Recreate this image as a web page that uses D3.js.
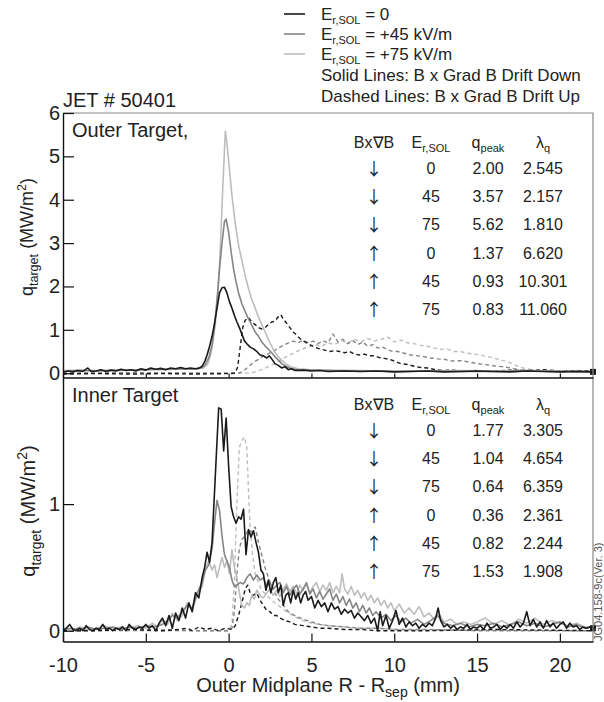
<!DOCTYPE html>
<html>
<head>
<meta charset="utf-8">
<script src="https://cdn.jsdelivr.net/npm/d3@7"></script>
<style>
  body { margin: 0; background: #fff; }
  svg text { font-family: "Liberation Sans", Arial, sans-serif; fill: #222; }
</style>
</head>
<body>
<div id="chart"></div>
<script>
// tick values
const xTicks = [-10, -5, 0, 5, 10, 15, 20];
const outerYTicks = [0, 1, 2, 3, 4, 5, 6];
const innerYTicks = [0, 1];

// table values
const driftDir = ['↓', '↓', '↓', '↑', '↑', '↑'];
const erSol = ['0', '45', '75', '0', '45', '75'];
const outerQpeak = ['2.00', '3.57', '5.62', '1.37', '0.93', '0.83'];
const outerLambda = ['2.545', '2.157', '1.810', '6.620', '10.301', '11.060'];
const innerQpeak = ['1.77', '1.04', '0.64', '0.36', '0.82', '1.53'];
const innerLambda = ['3.305', '4.654', '6.359', '2.361', '2.244', '1.908'];

// outer target, drift down (solid)
const outerDown0 = [[-10,0.02],[-9.7,0.05],[-9.4,0.03],[-9.1,0.06],[-8.8,0.04],[-8.5,0.12],[-8.3,0.04],[-8.0,0.05],[-7.7,0.08],[-7.4,0.04],[-7.1,0.07],[-6.8,0.05],[-6.5,0.09],[-6.2,0.06],[-5.9,0.08],[-5.6,0.05],[-5.3,0.1],[-5.0,0.07],[-4.7,0.12],[-4.4,0.09],[-4.1,0.11],[-3.8,0.08],[-3.5,0.12],[-3.2,0.1],[-2.9,0.13],[-2.6,0.1],[-2.3,0.12],[-2.0,0.1],[-1.8,0.11],[-1.6,0.16],[-1.45,0.26],[-1.3,0.42],[-1.15,0.62],[-1.0,0.85],[-0.85,1.15],[-0.7,1.5],[-0.55,1.85],[-0.4,1.97],[-0.25,1.98],[-0.1,1.85],[0.05,1.65],[0.2,1.5],[0.35,1.33],[0.5,1.18],[0.65,1.05],[0.8,0.9],[0.95,0.75],[1.1,0.68],[1.3,0.6],[1.5,0.56],[1.7,0.5],[1.9,0.42],[2.1,0.4],[2.3,0.35],[2.45,0.4],[2.6,0.33],[2.8,0.22],[3.0,0.18],[3.2,0.12],[3.4,0.15],[3.6,0.08],[3.8,0.1],[4.0,0.06],[4.5,0.07],[5,0.05],[5.5,0.06],[6,0.04],[7,0.05],[8,0.04],[9,0.05],[10,0.03],[11,0.04],[12,0.05],[13,0.03],[14,0.04],[15,0.05],[16,0.04],[17,0.03],[18,0.05],[19,0.04],[20,0.03],[21,0.04],[22,0.03]];
const outerDown45 = [[-10,0.04],[-9,0.06],[-8,0.05],[-7,0.06],[-6,0.07],[-5,0.08],[-4,0.09],[-3,0.1],[-2,0.1],[-1.6,0.13],[-1.4,0.2],[-1.2,0.35],[-1.0,0.65],[-0.85,1.1],[-0.7,1.7],[-0.55,2.4],[-0.4,3.0],[-0.25,3.5],[-0.15,3.55],[0.0,3.25],[0.15,2.8],[0.3,2.4],[0.45,2.1],[0.6,1.85],[0.8,1.6],[1.0,1.42],[1.2,1.25],[1.4,1.1],[1.6,0.95],[1.8,0.85],[2.0,0.72],[2.2,0.63],[2.4,0.55],[2.6,0.47],[2.8,0.38],[3.0,0.3],[3.2,0.22],[3.5,0.15],[3.8,0.1],[4.2,0.08],[5,0.07],[6,0.06],[7,0.05],[8,0.05],[10,0.04],[12,0.05],[14,0.04],[16,0.04],[18,0.05],[20,0.04],[22,0.03]];
const outerDown75 = [[-10,0.06],[-9,0.07],[-8,0.06],[-7,0.08],[-6,0.07],[-5,0.09],[-4,0.08],[-3,0.1],[-2,0.1],[-1.5,0.12],[-1.25,0.22],[-1.1,0.4],[-0.95,0.7],[-0.8,1.15],[-0.65,1.8],[-0.5,2.9],[-0.35,4.3],[-0.2,5.58],[-0.1,5.3],[0.05,4.7],[0.2,4.1],[0.4,3.45],[0.6,2.95],[0.8,2.6],[1.0,2.25],[1.2,1.95],[1.4,1.7],[1.6,1.5],[1.8,1.3],[2.0,1.12],[2.2,0.95],[2.4,0.78],[2.6,0.62],[2.8,0.48],[3.0,0.38],[3.2,0.3],[3.5,0.2],[3.8,0.14],[4.2,0.1],[5,0.08],[6,0.07],[8,0.06],[10,0.05],[12,0.05],[14,0.06],[16,0.05],[18,0.06],[20,0.05],[22,0.04]];

// outer target, drift up (dashed)
const outerUp0 = [[-10,-0.02],[-8,-0.01],[-6,-0.02],[-4,-0.01],[-2,-0.02],[0,-0.01],[0.4,0.0],[0.55,0.15],[0.7,0.6],[0.85,1.05],[1.0,1.22],[1.2,1.28],[1.4,1.18],[1.6,1.12],[1.8,1.05],[2.0,1.02],[2.2,1.05],[2.4,1.12],[2.6,1.18],[2.8,1.2],[3.0,1.3],[3.15,1.35],[3.3,1.25],[3.5,1.15],[3.7,1.05],[3.9,0.95],[4.1,0.88],[4.3,0.8],[4.6,0.72],[4.9,0.66],[5.2,0.6],[5.5,0.56],[5.8,0.53],[6.1,0.5],[6.4,0.52],[6.7,0.5],[7.0,0.47],[7.3,0.5],[7.6,0.44],[7.9,0.42],[8.2,0.44],[8.5,0.4],[8.8,0.4],[9.1,0.36],[9.4,0.34],[9.7,0.32],[10.0,0.28],[10.4,0.22],[10.8,0.2],[11.2,0.16],[11.6,0.13],[12.0,0.12],[12.5,0.08],[13,0.06],[13.5,0.07],[14,0.05],[15,0.06],[16,0.05],[17,0.07],[18,0.06],[19,0.08],[20,0.05],[21,0.06],[22,0.05]];
const outerUp45 = [[-10,0.0],[-6,0.01],[-2,0.0],[0,0.0],[0.6,0.0],[0.9,0.05],[1.2,0.15],[1.5,0.25],[1.8,0.32],[2.1,0.4],[2.4,0.45],[2.7,0.5],[3.0,0.58],[3.3,0.64],[3.6,0.7],[3.9,0.74],[4.2,0.7],[4.5,0.76],[4.8,0.7],[5.1,0.74],[5.4,0.68],[5.7,0.75],[6.0,0.7],[6.3,0.9],[6.6,0.72],[6.9,0.78],[7.2,0.68],[7.5,0.75],[7.8,0.66],[8.1,0.72],[8.4,0.62],[8.7,0.66],[9.0,0.58],[9.3,0.6],[9.6,0.54],[9.9,0.5],[10.2,0.5],[10.6,0.46],[11.0,0.42],[11.4,0.4],[11.8,0.38],[12.2,0.35],[12.6,0.33],[13.0,0.32],[13.5,0.28],[14.0,0.29],[14.5,0.26],[15.0,0.22],[15.5,0.2],[16.0,0.17],[16.5,0.15],[17.0,0.12],[17.5,0.08],[18,0.06],[19,0.05],[20,0.06],[21,0.05],[22,0.05]];
const outerUp75 = [[-10,0.0],[-4,0.01],[0,0.0],[1.2,0.0],[1.6,0.03],[2.0,0.08],[2.4,0.15],[2.8,0.22],[3.2,0.32],[3.6,0.4],[4.0,0.48],[4.4,0.55],[4.8,0.6],[5.2,0.66],[5.6,0.62],[6.0,0.7],[6.4,0.66],[6.8,0.74],[7.2,0.7],[7.6,0.78],[8.0,0.72],[8.4,0.8],[8.8,0.74],[9.2,0.78],[9.6,0.83],[10.0,0.72],[10.4,0.76],[10.8,0.7],[11.2,0.68],[11.6,0.64],[12.0,0.62],[12.4,0.58],[12.8,0.55],[13.2,0.56],[13.6,0.5],[14.0,0.5],[14.4,0.46],[14.8,0.44],[15.2,0.42],[15.6,0.38],[16.0,0.36],[16.4,0.3],[16.8,0.28],[17.2,0.2],[17.6,0.14],[18.0,0.1],[18.5,0.07],[19,0.06],[20,0.05],[21,0.06],[22,0.05]];

// inner target, drift down (solid)
const innerDown0 = [[-10,0.0],[-9.8,0.02],[-9.6,0.05],[-9.4,0.01],[-9.2,0.0],[-9.0,0.02],[-8.8,0.0],[-8.6,0.04],[-8.4,0.01],[-8.2,0.0],[-8.0,0.02],[-7.8,0.01],[-7.6,0.05],[-7.4,0.01],[-7.2,0.02],[-7.0,0.0],[-6.8,0.02],[-6.6,0.01],[-6.4,0.03],[-6.2,0.0],[-6.0,0.05],[-5.8,0.02],[-5.6,0.01],[-5.4,0.03],[-5.2,0.02],[-5.0,0.05],[-4.8,0.02],[-4.6,0.04],[-4.4,0.0],[-4.2,0.06],[-4.0,0.1],[-3.8,0.04],[-3.6,0.12],[-3.4,0.02],[-3.2,0.14],[-3.0,0.08],[-2.8,0.18],[-2.6,0.1],[-2.4,0.22],[-2.2,0.15],[-2.0,0.3],[-1.8,0.26],[-1.6,0.42],[-1.45,0.5],[-1.3,0.62],[-1.15,0.54],[-1.0,0.7],[-0.85,1.1],[-0.7,1.5],[-0.6,1.76],[-0.45,1.75],[-0.3,1.42],[-0.15,1.68],[0.0,1.3],[0.15,0.98],[0.3,0.9],[0.45,0.85],[0.6,0.9],[0.75,0.88],[0.9,0.96],[1.05,0.6],[1.2,0.8],[1.35,0.74],[1.5,0.79],[1.65,0.7],[1.8,0.62],[1.95,0.48],[2.1,0.45],[2.25,0.32],[2.4,0.4],[2.55,0.3],[2.7,0.38],[2.85,0.42],[3.0,0.3],[3.15,0.36],[3.3,0.2],[3.45,0.28],[3.6,0.3],[3.75,0.22],[3.9,0.32],[4.05,0.25],[4.2,0.3],[4.35,0.22],[4.5,0.28],[4.65,0.31],[4.8,0.24],[5.0,0.27],[5.2,0.18],[5.4,0.24],[5.6,0.19],[5.8,0.22],[6.0,0.15],[6.2,0.22],[6.4,0.17],[6.6,0.19],[6.8,0.13],[7.0,0.17],[7.2,0.14],[7.4,0.16],[7.6,0.1],[7.8,0.14],[8.0,0.11],[8.2,0.08],[8.4,0.12],[8.6,0.06],[8.8,0.1],[9.0,0.0],[9.15,0.15],[9.3,0.04],[9.5,0.12],[9.7,0.02],[9.9,0.08],[10.1,0.16],[10.3,0.05],[10.5,0.1],[10.7,0.03],[10.9,0.07],[11.1,0.04],[11.3,0.06],[11.5,0.02],[11.7,0.05],[11.9,0.03],[12.1,0.06],[12.3,0.04],[12.5,0.1],[12.65,0.18],[12.8,0.08],[13.0,0.03],[13.2,0.05],[13.4,0.02],[13.6,0.04],[13.8,0.01],[14.0,0.03],[14.2,0.02],[14.4,0.05],[14.6,0.01],[14.8,0.03],[15.0,0.02],[15.2,0.04],[15.4,0.01],[15.6,0.06],[15.8,0.02],[16.0,0.03],[16.2,0.05],[16.4,0.01],[16.6,0.04],[16.8,0.02],[17.0,0.05],[17.2,0.02],[17.4,0.07],[17.6,0.03],[17.8,0.06],[18.0,0.15],[18.2,0.04],[18.4,0.09],[18.6,0.03],[18.8,0.07],[19.0,0.02],[19.2,0.08],[19.4,0.03],[19.6,0.06],[19.8,0.02],[20.0,0.05],[20.2,0.07],[20.4,0.02],[20.6,0.06],[20.8,0.03],[21.0,0.04],[21.2,0.01],[21.4,0.03],[21.6,0.02],[21.8,0.03],[22.0,0.02]];
const innerDown45 = [[-10,0.01],[-9.5,0.02],[-9,0.01],[-8.5,0.03],[-8,0.01],[-7.5,0.02],[-7,0.03],[-6.5,0.01],[-6,0.03],[-5.5,0.02],[-5,0.04],[-4.5,0.03],[-4.0,0.05],[-3.7,0.08],[-3.4,0.12],[-3.1,0.1],[-2.8,0.15],[-2.5,0.2],[-2.2,0.18],[-1.9,0.3],[-1.6,0.38],[-1.4,0.48],[-1.2,0.52],[-1.0,0.65],[-0.85,0.85],[-0.7,1.03],[-0.55,0.95],[-0.4,0.75],[-0.25,0.6],[-0.1,0.55],[0.05,0.5],[0.2,0.4],[0.35,0.35],[0.5,0.36],[0.7,0.38],[0.9,0.37],[1.1,0.42],[1.3,0.45],[1.5,0.4],[1.7,0.44],[1.9,0.4],[2.1,0.42],[2.3,0.35],[2.5,0.38],[2.7,0.33],[2.9,0.36],[3.1,0.38],[3.3,0.3],[3.5,0.35],[3.7,0.28],[3.9,0.33],[4.1,0.36],[4.3,0.29],[4.5,0.33],[4.7,0.38],[4.9,0.29],[5.1,0.33],[5.3,0.26],[5.5,0.31],[5.7,0.25],[5.9,0.29],[6.1,0.33],[6.3,0.24],[6.5,0.29],[6.7,0.22],[6.9,0.27],[7.1,0.2],[7.3,0.25],[7.5,0.18],[7.7,0.22],[7.9,0.15],[8.1,0.2],[8.3,0.14],[8.5,0.18],[8.7,0.12],[8.9,0.15],[9.2,0.1],[9.5,0.13],[9.8,0.08],[10.1,0.12],[10.4,0.07],[10.7,0.1],[11.0,0.06],[11.4,0.09],[11.8,0.05],[12.2,0.08],[12.6,0.12],[13.0,0.06],[13.5,0.04],[14,0.06],[14.5,0.03],[15,0.05],[15.5,0.04],[16,0.06],[16.5,0.03],[17,0.05],[17.5,0.07],[18,0.04],[18.5,0.06],[19,0.03],[19.5,0.05],[20,0.07],[20.5,0.03],[21,0.05],[21.5,0.02],[22,0.03]];
const innerDown75 = [[-10,0.02],[-9.5,0.0],[-9,0.03],[-8.5,0.01],[-8,0.02],[-7.5,0.04],[-7,0.01],[-6.5,0.03],[-6,0.02],[-5.5,0.04],[-5,0.02],[-4.6,0.06],[-4.3,0.03],[-4.0,0.08],[-3.7,0.05],[-3.4,0.14],[-3.1,0.08],[-2.8,0.12],[-2.5,0.22],[-2.2,0.16],[-1.9,0.28],[-1.6,0.35],[-1.4,0.5],[-1.2,0.55],[-1.0,0.48],[-0.85,0.52],[-0.7,0.42],[-0.55,0.5],[-0.4,0.58],[-0.25,0.5],[-0.1,0.55],[0.05,0.45],[0.2,0.64],[0.35,0.5],[0.5,0.42],[0.65,0.3],[0.8,0.2],[0.95,0.18],[1.1,0.22],[1.25,0.2],[1.4,0.28],[1.55,0.25],[1.7,0.32],[1.9,0.28],[2.1,0.26],[2.3,0.3],[2.5,0.33],[2.7,0.28],[2.9,0.32],[3.1,0.27],[3.3,0.33],[3.5,0.37],[3.7,0.31],[3.9,0.35],[4.1,0.29],[4.3,0.36],[4.5,0.32],[4.7,0.37],[4.9,0.3],[5.1,0.35],[5.3,0.38],[5.5,0.31],[5.7,0.36],[5.9,0.32],[6.1,0.38],[6.3,0.3],[6.5,0.35],[6.7,0.3],[6.85,0.45],[7.0,0.33],[7.2,0.29],[7.4,0.35],[7.6,0.28],[7.8,0.32],[8.0,0.26],[8.2,0.3],[8.4,0.24],[8.6,0.28],[8.8,0.22],[9.0,0.26],[9.2,0.2],[9.4,0.24],[9.6,0.18],[9.8,0.22],[10.0,0.16],[10.3,0.21],[10.6,0.14],[10.9,0.18],[11.2,0.13],[11.5,0.19],[11.8,0.11],[12.1,0.14],[12.4,0.09],[12.7,0.13],[13.0,0.07],[13.4,0.09],[13.8,0.05],[14.2,0.07],[14.6,0.05],[15.0,0.07],[15.5,0.1],[16.0,0.05],[16.5,0.08],[17.0,0.04],[17.5,0.09],[18.0,0.06],[18.5,0.1],[19.0,0.05],[19.5,0.08],[20.0,0.06],[20.5,0.04],[21.0,0.06],[21.5,0.03],[22.0,0.03]];

// inner target, drift up (dashed)
const innerUp0 = [[-10,0.0],[-8,0.0],[-6,0.01],[-4,0.0],[-3,0.01],[-2.5,0.02],[-2.2,0.0],[-1.8,0.03],[-1.4,0.01],[-1.0,0.02],[-0.6,0.0],[-0.2,0.02],[0.2,0.01],[0.4,0.04],[0.6,0.12],[0.8,0.22],[1.0,0.33],[1.15,0.36],[1.3,0.3],[1.5,0.28],[1.7,0.3],[1.9,0.24],[2.1,0.2],[2.3,0.16],[2.5,0.15],[2.7,0.12],[2.9,0.12],[3.1,0.1],[3.4,0.08],[3.7,0.07],[4.0,0.05],[4.5,0.04],[5.0,0.03],[5.5,0.02],[6,0.02],[7,0.01],[8,0.01],[9,0.0],[12,0.0],[16,0.01],[22,0.0]];
const innerUp45 = [[-10,0.0],[-5,0.01],[-2,0.0],[0,0.0],[0.2,0.02],[0.35,0.15],[0.5,0.45],[0.65,0.65],[0.8,0.72],[1.0,0.75],[1.2,0.8],[1.4,0.78],[1.6,0.82],[1.8,0.7],[2.0,0.6],[2.2,0.5],[2.4,0.42],[2.6,0.35],[2.8,0.3],[3.0,0.25],[3.3,0.2],[3.6,0.15],[4.0,0.12],[4.5,0.09],[5.0,0.07],[5.5,0.05],[6.0,0.04],[7,0.03],[8,0.02],[9,0.02],[10,0.01],[12,0.01],[15,0.0],[22,0.0]];
const innerUp75 = [[-10,0.0],[-5,0.0],[0,0.0],[0.2,0.05],[0.35,0.4],[0.5,1.0],[0.65,1.45],[0.8,1.5],[0.95,1.53],[1.1,1.45],[1.2,1.1],[1.3,0.8],[1.45,0.6],[1.6,0.45],[1.8,0.38],[2.0,0.32],[2.3,0.28],[2.6,0.24],[3.0,0.2],[3.5,0.15],[4.0,0.11],[4.5,0.08],[5.0,0.06],[6.0,0.04],[7,0.03],[8,0.02],[9,0.02],[10,0.01],[22,0.0]];

const colBlack = '#1a1a1a', colGray = '#858585', colLight = '#bdbdbd';
const font = '"Liberation Sans", Arial, sans-serif';

const width = 604, height = 702;
const left = 63, right = 593;
const topY0 = 113, midY = 377.5, botY1 = 641.5;

const svg = d3.select('#chart').append('svg')
    .attr('width', width)
    .attr('height', height);

const x = d3.scaleLinear().domain([-10, 22]).range([left, right]);
const yOuter = d3.scaleLinear().domain([-0.1, 6]).range([midY, topY0]);
const yInner = d3.scaleLinear().domain([-0.085, 2]).range([botY1, midY]);

// clip areas
const defs = svg.append('defs');
defs.append('clipPath').attr('id', 'clipOuter').append('rect')
    .attr('x', left).attr('y', topY0).attr('width', right - left).attr('height', midY - topY0);
defs.append('clipPath').attr('id', 'clipInner').append('rect')
    .attr('x', left).attr('y', midY).attr('width', right - left).attr('height', botY1 - midY);

function drawPanel(y, clipId, series) {
    const line = d3.line().x(d => x(d[0])).y(d => y(d[1]));
    const g = svg.append('g').attr('clip-path', `url(#${clipId})`);
    series.forEach(s => {
        g.append('path')
            .datum(s.data)
            .attr('d', line)
            .attr('fill', 'none')
            .attr('stroke', s.color)
            .attr('stroke-width', s.dash ? 1.4 : 1.6)
            .attr('stroke-dasharray', s.dash ? '4,3' : null)
            .attr('stroke-linejoin', 'round');
    });
}

drawPanel(yOuter, 'clipOuter', [
    {data: outerUp75, color: colLight, dash: true},
    {data: outerUp45, color: colGray, dash: true},
    {data: outerUp0, color: colBlack, dash: true},
    {data: outerDown75, color: colLight},
    {data: outerDown45, color: colGray},
    {data: outerDown0, color: colBlack}
]);
drawPanel(yInner, 'clipInner', [
    {data: innerUp75, color: colLight, dash: true},
    {data: innerUp45, color: colGray, dash: true},
    {data: innerUp0, color: colBlack, dash: true},
    {data: innerDown75, color: colLight},
    {data: innerDown45, color: colGray},
    {data: innerDown0, color: colBlack}
]);

// end markers on black curves
[[outerDown0, yOuter], [innerDown0, yInner]].forEach(([s, y]) => {
    const p = s[s.length - 1];
    svg.append('rect')
        .attr('x', x(p[0]) - 3).attr('y', y(p[1]) - 3)
        .attr('width', 6).attr('height', 6)
        .attr('fill', colBlack);
});

// frames (top and right in gray)
svg.append('path')
    .attr('d', `M${left},${topY0}H${right}V${botY1}`)
    .attr('fill', 'none').attr('stroke', '#888').attr('stroke-width', 1.2);

// axes
function styleAxis(g, size) {
    g.select('.domain').attr('stroke', '#111').attr('stroke-width', 1.4);
    g.selectAll('.tick line').attr('stroke', '#111').attr('stroke-width', 1.2);
    g.selectAll('.tick text').attr('font-family', font).attr('font-size', size).attr('fill', '#222');
}

svg.append('g')
    .attr('transform', `translate(${left},0)`)
    .call(d3.axisLeft(yOuter).tickValues(outerYTicks).tickFormat(d => String(d))
        .tickSizeInner(-11).tickSizeOuter(0).tickPadding(3))
    .call(g => styleAxis(g, 20));

svg.append('g')
    .attr('transform', `translate(${left},0)`)
    .call(d3.axisLeft(yInner).tickValues(innerYTicks).tickFormat(d => String(d))
        .tickSizeInner(-11).tickSizeOuter(0).tickPadding(3))
    .call(g => styleAxis(g, 20));

svg.append('g')
    .attr('transform', `translate(0,${midY})`)
    .call(d3.axisBottom(x).tickValues(xTicks).tickFormat('')
        .tickSizeInner(-4).tickSizeOuter(0))
    .call(g => styleAxis(g, 20));

svg.append('g')
    .attr('transform', `translate(0,${botY1})`)
    .call(d3.axisBottom(x).tickValues(xTicks).tickFormat(d => String(d))
        .tickSizeInner(-8).tickSizeOuter(0).tickPadding(11))
    .call(g => styleAxis(g, 20))
    .call(g => g.selectAll('.tick text').attr('dy', '0.95em'));

// axis titles
function qLabel(cx, cy, size) {
    const t = svg.append('text')
        .attr('transform', `translate(${cx},${cy}) rotate(-90)`)
        .attr('text-anchor', 'middle')
        .attr('font-size', size);
    t.append('tspan').text('q');
    t.append('tspan').attr('font-size', size * 0.7).attr('dy', size * 0.3).text('target');
    t.append('tspan').attr('dy', -size * 0.3).text(' (MW/m');
    t.append('tspan').attr('font-size', size * 0.7).attr('dy', -size * 0.4).text('2');
    t.append('tspan').attr('dy', size * 0.4).text(')');
}
qLabel(33, 237, 18);
qLabel(35, 511, 20);

const xt = svg.append('text')
    .attr('x', (left + right) / 2).attr('y', 692)
    .attr('text-anchor', 'middle').attr('font-size', 20);
xt.append('tspan').text('Outer Midplane R - R');
xt.append('tspan').attr('font-size', 14).attr('dy', 5).text('sep');
xt.append('tspan').attr('dy', -5).text(' (mm)');

// titles
svg.append('text').attr('x', 63).attr('y', 107).attr('font-size', 20).text('JET # 50401');
svg.append('text').attr('x', 72).attr('y', 137).attr('font-size', 20).text('Outer Target,');
svg.append('text').attr('x', 72).attr('y', 402).attr('font-size', 20).text('Inner Target');

// legend
const legendItems = [
    {color: colBlack, value: ' = 0'},
    {color: colGray, value: ' = +45 kV/m'},
    {color: colLight, value: ' = +75 kV/m'}
];
legendItems.forEach((d, i) => {
    const yb = 20 + i * 20;
    svg.append('line')
        .attr('x1', 284).attr('x2', 305)
        .attr('y1', yb - 6).attr('y2', yb - 6)
        .attr('stroke', d.color).attr('stroke-width', 1.6);
    const t = svg.append('text').attr('x', 321).attr('y', yb).attr('font-size', 17);
    t.append('tspan').text('E');
    t.append('tspan').attr('font-size', 11).attr('dy', 4).text('r,SOL');
    t.append('tspan').attr('dy', -4).text(d.value);
});
svg.append('text').attr('x', 321).attr('y', 81).attr('font-size', 17)
    .text('Solid Lines: B x Grad B Drift Down');
svg.append('text').attr('x', 321).attr('y', 102).attr('font-size', 17)
    .text('Dashed Lines: B x Grad B Drift Up');

// tables
const colX = [374, 431, 488, 543];
function drawTable(headerY, qpeak, lambda) {
    const fs = 16, sub = 11;
    const g = svg.append('g').attr('font-size', fs).attr('text-anchor', 'middle');
    g.append('text').attr('x', colX[0]).attr('y', headerY).text('Bx∇B');
    let t = g.append('text').attr('x', colX[1]).attr('y', headerY);
    t.append('tspan').text('E');
    t.append('tspan').attr('font-size', sub).attr('dy', 4).text('r,SOL');
    t = g.append('text').attr('x', colX[2]).attr('y', headerY);
    t.append('tspan').text('q');
    t.append('tspan').attr('font-size', sub).attr('dy', 4).text('peak');
    t = g.append('text').attr('x', colX[3]).attr('y', headerY);
    t.append('tspan').text('λ');
    t.append('tspan').attr('font-size', sub).attr('dy', 4).text('q');
    driftDir.forEach((dir, i) => {
        const yb = headerY + 26 + i * 28.2;
        g.append('text').attr('x', colX[0]).attr('y', yb + 1)
            .style('font-family', '"Noto Sans CJK JP", "DejaVu Sans", sans-serif')
            .attr('font-size', 17).text(dir);
        g.append('text').attr('x', colX[1]).attr('y', yb).text(erSol[i]);
        g.append('text').attr('x', colX[2]).attr('y', yb).text(qpeak[i]);
        g.append('text').attr('x', colX[3]).attr('y', yb).text(lambda[i]);
    });
}
drawTable(148, outerQpeak, outerLambda);
drawTable(410, innerQpeak, innerLambda);

// figure id
svg.append('text')
    .attr('transform', 'translate(602,641) rotate(-90)')
    .attr('font-size', 11)
    .style('fill', '#555')
    .text('JG04.158-9c(Ver. 3)');
</script>
</body>
</html>
